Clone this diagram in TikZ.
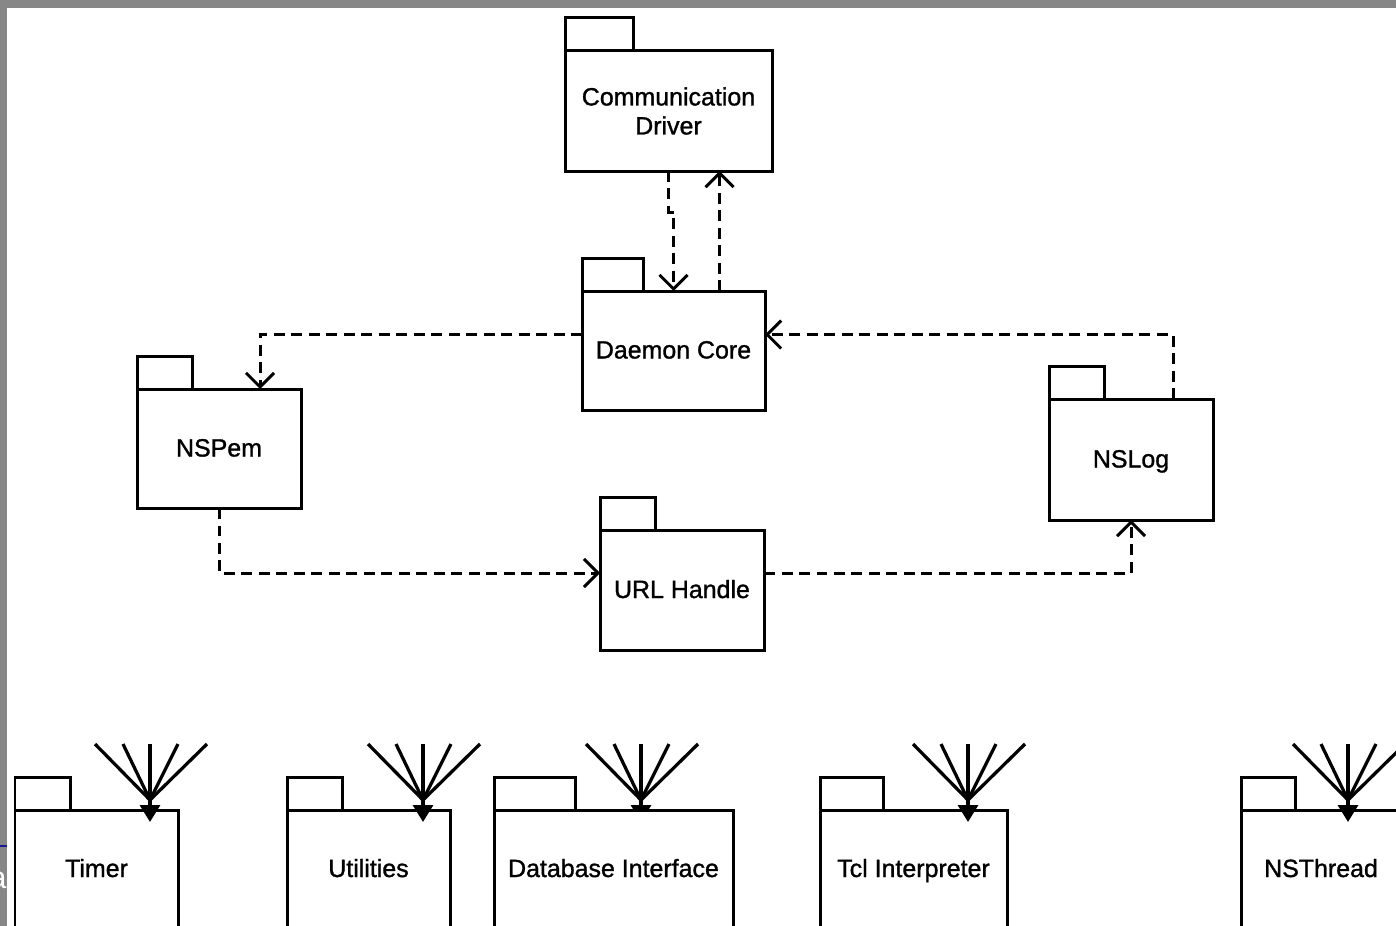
\documentclass[tikz,border=0pt]{standalone}
\usepackage{fontspec}
\setmainfont{Liberation Sans}
\newfontfamily\pkgfont{Liberation Sans}[FakeBold=1.2]
\usetikzlibrary{arrows.meta,calc,fit}
\definecolor{slidegrey}{RGB}{135,135,135}
\definecolor{linkblue}{RGB}{25,25,150}

\begin{document}
\begin{tikzpicture}[x=0.02cm,y=-0.02cm,
  pkg/.style={draw, line width=0.06cm, fill=white, inner sep=0pt, outer sep=0pt},
  pkgname/.style={inner sep=0pt, align=center,
                  font=\pkgfont\fontsize{14.2pt}{16.5pt}\selectfont},
  pkgtab/.style={draw, line width=0.06cm, fill=white},
  dep/.style={draw, line width=0.06cm, dash pattern=on 0.22cm off 0.13cm,
              -{Straight Barb[length=0.28cm,width=0.56cm]}},
  fanline/.style={line width=0.065cm},
  fanhead/.style={-{Triangle[length=0.34cm,width=0.40cm]}}]

\useasboundingbox (0,0) rectangle (1396,926);
\clip (0,0) rectangle (1396,926);
\fill[white] (0,0) rectangle (1396,926);

% slide frame
\fill[slidegrey] (0,0) rectangle (1396,8);
\fill[slidegrey] (0,0) rectangle (7,926);
\draw[linkblue, line width=0.04cm] (0,846) -- (7,846);
\begin{scope}
  \clip (0,0) rectangle (7,926);
  \node[anchor=base east, inner sep=0pt, text=white,
        font=\fontsize{17.6pt}{20pt}\selectfont] (edge) at (7,888) {a};
\end{scope}

% fan into Database Interface (drawn behind its package)
\foreach \ax/\nm in {641/d} {
  \coordinate (\nm apex) at (\ax,800);
  \coordinate (\nm tip) at (\ax,822);
  \foreach \dx [count=\i] in {-55,-27,28,57} \coordinate (\nm top\i) at (\ax+\dx,744);
  \coordinate (\nm mid) at (\ax,744);
  \foreach \i in {1,...,4} \draw[fanline] (\nm top\i) -- (\nm apex);
  \draw[fanline, fanhead] (\nm mid) -- (\nm tip);
}

% packages
\node[pkg, fit={(565,51) (772,171)}] (cd) {};
\node[pkg, fit={(582,291) (765,410)}] (dc) {};
\node[pkg, fit={(137,389) (301,508)}] (nspem) {};
\node[pkg, fit={(1049,399) (1213,520)}] (nslog) {};
\node[pkg, fit={(600,530) (764,650)}] (url) {};
\node[pkg, fit={(15,810) (178,930)}] (timer) {};
\node[pkg, fit={(287,810) (450,930)}] (util) {};
\node[pkg, fit={(494,810) (733,930)}] (dbi) {};
\node[pkg, fit={(820,810) (1007,930)}] (tcl) {};
\node[pkg, fit={(1241,810) (1401,930)}] (nsthread) {};

% package tabs
\foreach \n/\w in {cd/68, dc/61, nspem/55, nslog/55, url/55, timer/55,
                   util/55, dbi/81, tcl/63, nsthread/54}
  \draw[pkgtab] (\n.north west) rectangle ++(\w,-33);

% package names
\node[pkgname] (cd-name) at (cd.center) {Communication\\Driver};
\node[pkgname, anchor=base] (dc-name) at ($(dc.center)+(0,8)$) {Daemon Core};
\node[pkgname, anchor=base] (nspem-name) at ($(nspem.center)+(0,8)$) {NSPem};
\node[pkgname, anchor=base] (nslog-name) at ($(nslog.center)+(0,8)$) {NSLog};
\node[pkgname, anchor=base] (url-name) at ($(url.center)+(0,8)$) {URL Handle};
\foreach \n/\t in {timer/Timer, util/Utilities, dbi/Database Interface,
                   tcl/Tcl Interpreter, nsthread/NSThread}
  \node[pkgname, anchor=base] (\n-name) at ($(\n.north)+(0,67)$) {\t};

% dependencies
\draw[dep] (cd.south) -- ++(0,41) -| (dc.north);
\draw[dep] ($(dc.north)+(46,0)$) -- ($(cd.south)+(51,0)$);
\draw[dep] ($(dc.west)+(0,-16)$) -| ($(nspem.north)+(41,0)$);
\draw[dep] ($(nslog.north)+(42,0)$) |- ($(dc.east)+(0,-16)$);
\draw[dep] (nspem.south) |- ($(url.west)+(0,-17)$);
\draw[dep] ($(url.east)+(0,-17)$) -| (nslog.south);

% fans into the lower packages
\foreach \ax/\nm in {150/t, 423/u, 968/c, 1348/n} {
  \coordinate (\nm apex) at (\ax,800);
  \coordinate (\nm tip) at (\ax,822);
  \foreach \dx [count=\i] in {-55,-27,28,57} \coordinate (\nm top\i) at (\ax+\dx,744);
  \coordinate (\nm mid) at (\ax,744);
  \foreach \i in {1,...,4} \draw[fanline] (\nm top\i) -- (\nm apex);
  \draw[fanline, fanhead] (\nm mid) -- (\nm tip);
}
\end{tikzpicture}
\end{document}
